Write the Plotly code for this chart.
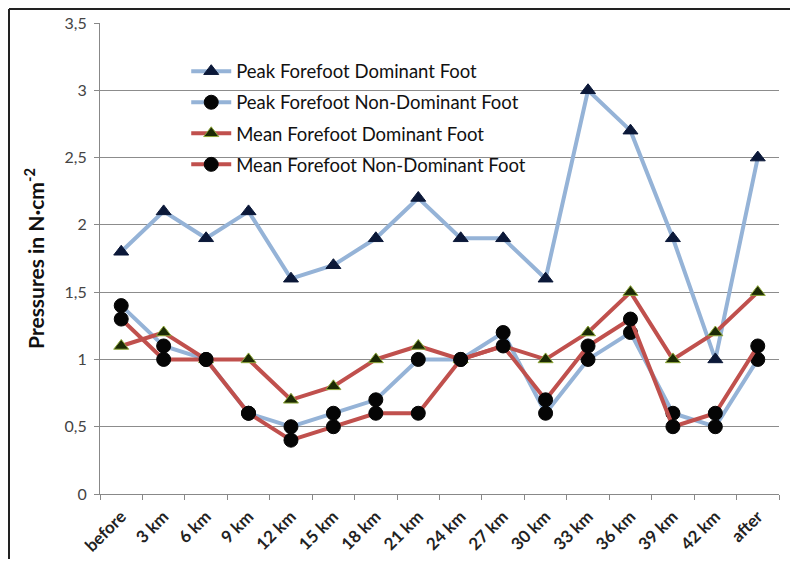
import plotly.graph_objects as go

categories = ["before", "3 km", "6 km", "9 km", "12 km", "15 km", "18 km", "21 km",
              "24 km", "27 km", "30 km", "33 km", "36 km", "39 km", "42 km", "after"]

peak_dominant = [1.8, 2.1, 1.9, 2.1, 1.6, 1.7, 1.9, 2.2, 1.9, 1.9, 1.6, 3.0, 2.7, 1.9, 1.0, 2.5]
peak_nondominant = [1.4, 1.1, 1.0, 0.6, 0.5, 0.6, 0.7, 1.0, 1.0, 1.2, 0.6, 1.0, 1.2, 0.6, 0.5, 1.0]
mean_dominant = [1.1, 1.2, 1.0, 1.0, 0.7, 0.8, 1.0, 1.1, 1.0, 1.1, 1.0, 1.2, 1.5, 1.0, 1.2, 1.5]
mean_nondominant = [1.3, 1.0, 1.0, 0.6, 0.4, 0.5, 0.6, 0.6, 1.0, 1.1, 0.7, 1.1, 1.3, 0.5, 0.6, 1.1]

series_names = ["Peak Forefoot Dominant Foot", "Peak Forefoot Non-Dominant Foot",
                "Mean Forefoot Dominant Foot", "Mean Forefoot Non-Dominant Foot"]

y_ticks = [0, 0.5, 1, 1.5, 2, 2.5, 3, 3.5]

BLUE = "#95B3D7"
RED = "#C0504D"
FONT = "Lato"

fig = go.Figure()

styles = [
    (peak_dominant, BLUE, "triangle-up", 13, "#0b1838", "#0b1838"),
    (peak_nondominant, BLUE, "circle", 14, "#050505", "#050505"),
    (mean_dominant, RED, "triangle-up", 13, "#1c2a05", "#8fa83a"),
    (mean_nondominant, RED, "circle", 14, "#050505", "#050505"),
]

for i, (vals, lc, sym, sz, mc, mlc) in enumerate(styles):
    fig.add_trace(go.Scatter(
        x=categories, y=vals, name=series_names[i], mode="lines+markers",
        legendgroup=f"g{i}",
        line=dict(color=lc, width=4),
        marker=dict(symbol=sym, size=sz, color=mc, line=dict(color=mlc, width=1)),
    ))

# figure sized to fit inside the window together with the page's 8px body margin
fig.update_layout(
    width=782, height=551,
    margin=dict(l=92, r=11, t=15, b=65, autoexpand=False),
    paper_bgcolor="white", plot_bgcolor="white",
    separators=", ",
    font=dict(family=FONT, color="#333"),
    showlegend=True,
    legend=dict(
        x=0.127, y=0.937, xanchor="left", yanchor="top",
        bgcolor="rgba(0,0,0,0)",
        font=dict(family=FONT, size=18.5, color="#111"),
        tracegroupgap=4, itemwidth=40,
    ),
    xaxis=dict(
        type="category", tickson="boundaries", ticks="outside", ticklen=5,
        tickcolor="#888", showline=True, linecolor="#888", linewidth=1,
        showgrid=False, tickangle=-45, automargin=False, ticklabelstandoff=5,
        tickfont=dict(family=FONT, size=17, color="#222", weight="bold"),
        range=[-0.5, 15.5],
    ),
    yaxis=dict(
        range=[0, 3.5], tickvals=y_ticks, ticks="outside", ticklen=5,
        tickcolor="#888", showline=True, linecolor="#888", linewidth=1,
        showgrid=True, gridcolor="#8c8c8c", gridwidth=1, zeroline=False,
        automargin=False, ticklabelstandoff=4,
        tickfont=dict(family=FONT, size=16, color="#444"),
        title=dict(text="Pressures in N·cm<sup>-2</sup>", standoff=14,
                   font=dict(family=FONT, size=21, color="#111", weight="bold")),
    ),
    shapes=[
        dict(type="line", xref="paper", yref="paper", x0=-91.0 / 679, x1=1 + 11.0 / 679,
             y0=1 + 14.0 / 471, y1=1 + 14.0 / 471, line=dict(color="#222", width=2)),
        dict(type="line", xref="paper", yref="paper", x0=-91.0 / 679, x1=-91.0 / 679,
             y0=1 + 14.0 / 471, y1=-65.0 / 471, line=dict(color="#222", width=2)),
    ],
)

fig.write_html("out.html")
